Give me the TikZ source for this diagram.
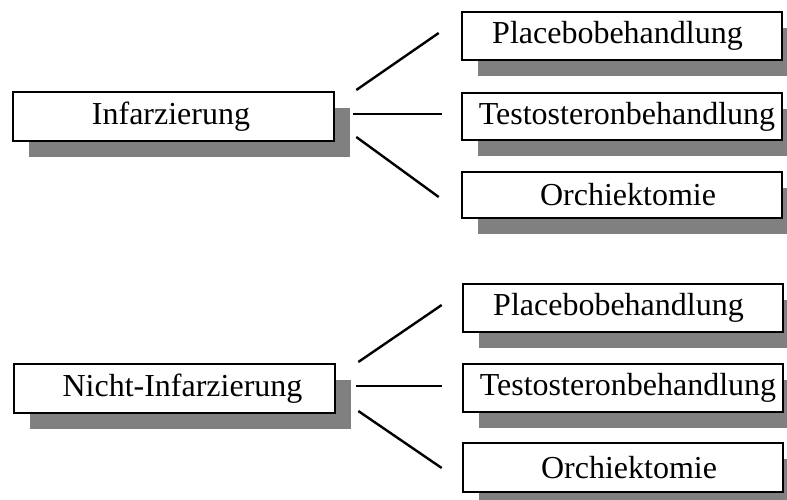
\documentclass[tikz,border=0pt]{standalone}
\usepackage{fontspec}
\setmainfont{Liberation Serif}
\usetikzlibrary{shadows,calc}
\definecolor{shadowgray}{HTML}{808080}
\tikzset{
  box/.style={draw=black, line width=2.6pt, fill=white, inner sep=0pt,
    minimum height=48pt, font=\fontsize{32}{37}\selectfont,
    drop shadow={shadow xshift=16pt, shadow yshift=-16pt, fill=shadowgray, opacity=1}},
  leftbox/.style={box, minimum width=321pt},
  rightbox/.style={box, minimum width=320pt},
  conn/.style={draw=black, line width=2.4pt}
}
\begin{document}
\begin{tikzpicture}[x=1pt, y=-1pt]
\useasboundingbox (0,0) rectangle (787,499);
% upper group
\node[leftbox, minimum height=49pt] (inf) at (173.5,116.5) {\hspace*{-5pt}Infarzierung};
\node[rightbox] (pl1) at (622,36) {\hspace*{-9pt}Placebobehandlung};
\node[rightbox, minimum height=47pt] (te1) at (622,116.5) {\hspace*{10pt}Testosteronbehandlung};
\node[rightbox, minimum height=46pt] (or1) at (622,195) {\hspace*{12pt}Orchiektomie};
\draw[conn] ($(inf.east)+(21,-26.5)$) -- ($(pl1.west)+(-22,-3)$);
\draw[conn] ($(inf.east)+(18,-2.5)$) -- ($(te1.west)+(-19,-2.5)$);
\draw[conn] ($(inf.east)+(21,20.5)$) -- ($(or1.west)+(-22,2)$);
% lower group
\node[leftbox, minimum height=49pt] (ni) at (174.5,388.5) {\hspace*{16pt}Nicht-Infarzierung};
\node[rightbox] (pl2) at (623,308) {\hspace*{-9pt}Placebobehandlung};
\node[rightbox] (te2) at (623,388) {\hspace*{10pt}Testosteronbehandlung};
\node[rightbox, minimum height=49pt] (or2) at (623,467.5) {\hspace*{12pt}Orchiektomie};
\draw[conn] ($(ni.east)+(22,-26.5)$) -- ($(pl2.west)+(-20,-3)$);
\draw[conn] ($(ni.east)+(20,-2.5)$) -- ($(te2.west)+(-20,-2)$);
\draw[conn] ($(ni.east)+(22,22.5)$) -- ($(or2.west)+(-20,0.5)$);
\end{tikzpicture}
\end{document}
